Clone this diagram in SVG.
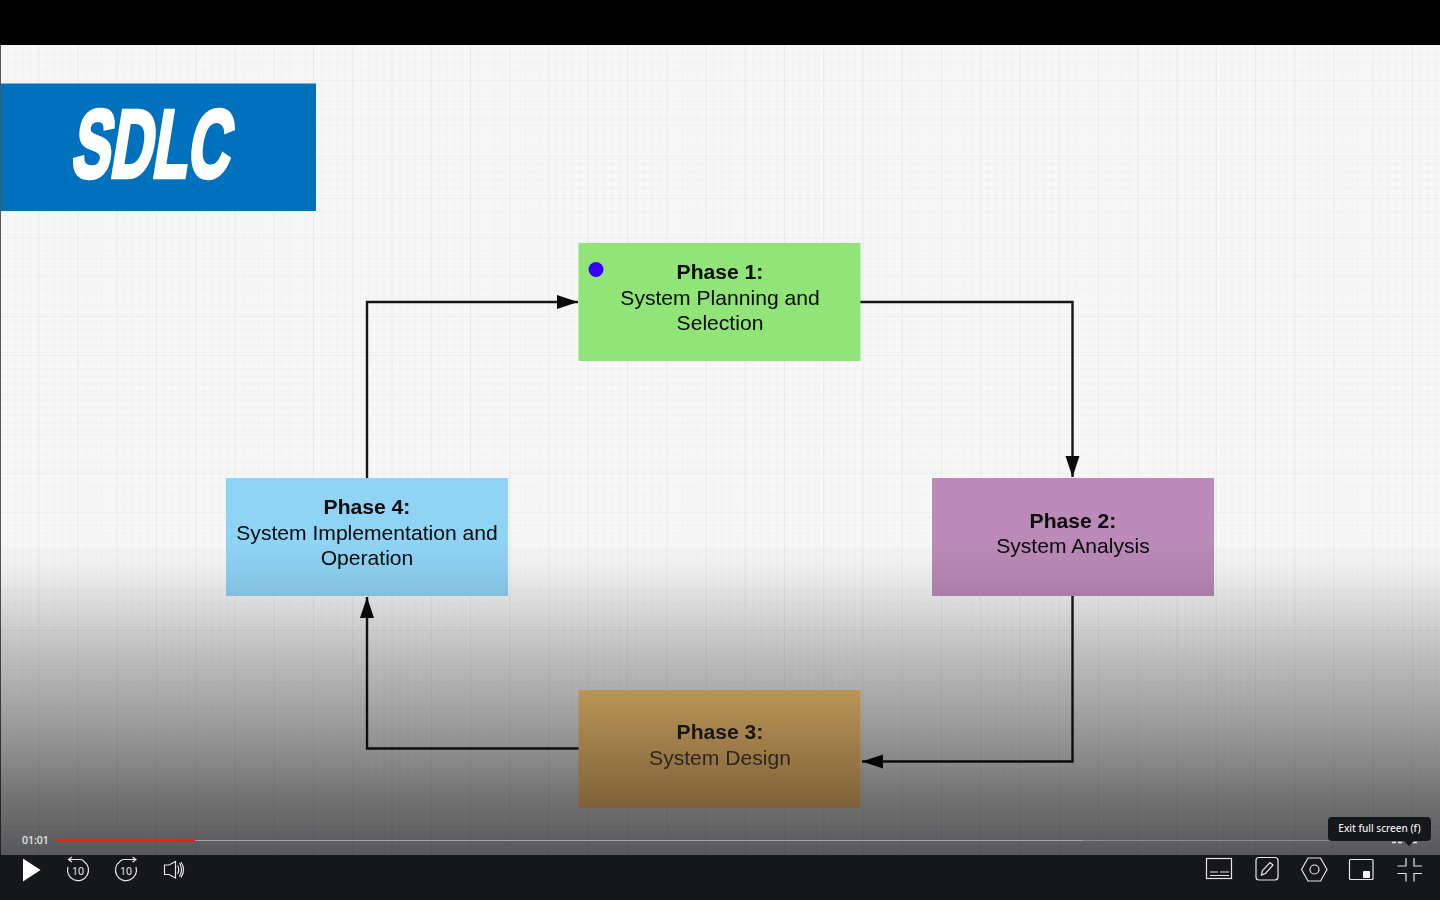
<svg xmlns="http://www.w3.org/2000/svg" width="1440" height="900" viewBox="0 0 1440 900">
<style>
.t{font-family:"Liberation Sans",Arial,sans-serif;font-size:21.1px;fill:#080808;text-anchor:middle;filter:url(#soft)}
.b{font-weight:700}
.c{fill:none;stroke:#161616;stroke-width:2.4;stroke-linejoin:miter}
.i{fill:none;stroke:#e6e6e6;stroke-width:1.2}
.u{font-family:"Noto Sans","Open Sans",sans-serif;fill:#ececec}
</style>
<defs>
<filter id="soft" x="-5%" y="-20%" width="110%" height="140%"><feGaussianBlur stdDeviation="0.3"/></filter>
<pattern id="minor" width="7.85" height="7.85" patternUnits="userSpaceOnUse"><path d="M7.85 0V7.85H0" fill="none" stroke="#eeeeee" stroke-width="1"/></pattern>
<pattern id="major" width="39.25" height="39.25" patternUnits="userSpaceOnUse" patternTransform="translate(0 42)"><path d="M39.25 0V39.25H0" fill="none" stroke="#e5e5e5" stroke-width="1.200"/></pattern>
<linearGradient id="shade" x1="0" y1="0" x2="0" y2="1"><stop offset="0" stop-color="#000" stop-opacity="0"/><stop offset=".1" stop-color="#000" stop-opacity=".04"/><stop offset=".32" stop-color="#000" stop-opacity=".2"/><stop offset=".635" stop-color="#000" stop-opacity=".4"/><stop offset=".825" stop-color="#000" stop-opacity=".54"/><stop offset="1" stop-color="#020308" stop-opacity=".65"/></linearGradient>
<linearGradient id="brown" x1="0" y1="0" x2="0" y2="1"><stop offset="0" stop-color="#ba9555"/><stop offset="1" stop-color="#7e6139"/></linearGradient>
<marker id="arrow" markerUnits="userSpaceOnUse" markerWidth="22" markerHeight="16" refX="21" refY="7" orient="auto"><path d="M0 0L21 7L0 14Z" fill="#0a0a0a"/></marker>
</defs>
<rect width="1440" height="900" fill="#000"/>
<g id="canvas"><rect y="45" width="1440" height="810" fill="#f7f7f7"/><rect y="45" width="1440" height="810" fill="url(#minor)"/><rect y="45" width="1440" height="810" fill="url(#major)"/><rect y="45" width="1" height="810" fill="#555"/></g>
<g id="title"><rect x="1" y="83.500" width="315" height="127.500" fill="#0071bc"/><text transform="translate(70 177) skewX(-9)" x="0" y="0" font-family="'Liberation Sans',Roboto,sans-serif" font-weight="700" font-size="96" fill="#fff" stroke="#fff" stroke-width="4.500" textLength="158" lengthAdjust="spacingAndGlyphs">SDLC</text></g>
<g id="connectors">
<path class="c" marker-end="url(#arrow)" d="M860 302H1072.500V477"/>
<path class="c" marker-end="url(#arrow)" d="M1072.500 596V761.500H862"/>
<path class="c" marker-end="url(#arrow)" d="M579 748.500H367V597"/>
<path class="c" marker-end="url(#arrow)" d="M367 478V302H578"/>
</g>
<g id="phase1"><rect x="578.500" y="243" width="282" height="118" fill="#90e478"/><text class="t b" x="720" y="279">Phase 1:</text><text class="t" x="720" y="304.500">System Planning and</text><text class="t" x="720" y="330">Selection</text></g>
<g id="phase2"><rect x="932" y="478" width="282" height="118" fill="#bb8ab8"/><text class="t b" x="1073" y="528">Phase 2:</text><text class="t" x="1073" y="553">System Analysis</text></g>
<g id="phase4"><rect x="226" y="478" width="282" height="118" fill="#8fd3f5"/><text class="t b" x="367" y="514">Phase 4:</text><text class="t" x="367" y="540">System Implementation and</text><text class="t" x="367" y="565">Operation</text></g>
<circle id="pointer" cx="596" cy="269.500" r="7.500" fill="#3a00f5"/>
<rect id="shade-overlay" y="540" width="1440" height="315" fill="url(#shade)"/>
<g id="phase3"><rect x="578.500" y="690" width="282" height="118" fill="url(#brown)"/><text class="t b" x="720" y="739" style="fill:#171512">Phase 3:</text><text class="t" x="720" y="765" style="fill:#2b2620">System Design</text></g>
<g id="player">
<rect y="855" width="1440" height="45" fill="#16171b"/>
<text class="u" x="22" y="844" font-size="10.500" font-weight="500">01:01</text>
<rect x="57" y="840" width="1026" height="1" fill="#a5a5a5"/><rect x="1083" y="840" width="335" height="1" fill="#8a8a8a"/>
<rect x="57" y="839.500" width="138" height="2" fill="#f0200f"/>
<path d="M23 858.500L40.500 870L23 881.500Z" fill="#fff"/>
<g id="back10"><path class="i" d="M68 867A10.500 10.500 0 1 0 84 861.500Q83 859.500 80 859.500H68.500M72 857L68.500 859.500L72 862"/><text class="u" x="78" y="874.500" font-size="10.500" text-anchor="middle">10</text></g>
<g id="fwd10"><path class="i" d="M136 867A10.500 10.500 0 1 1 120 861.500Q121 859.500 124 859.500H136M132.500 857L136 859.500L132.500 862"/><text class="u" x="126" y="874.500" font-size="10.500" text-anchor="middle">10</text></g>
<g id="volume"><path class="i" d="M164.500 865H169L175.500 861.500V878L169 874.500H164.500Z"/><path class="i" d="M177.500 865.500Q180 869.500 177.500 874M179.500 863Q183.500 869.500 179.500 876.500M181 862Q186 869.500 181 877.500"/></g>
<g id="captions"><rect class="i" x="1206.500" y="858.500" width="25" height="20"/><path class="i" d="M1210 872H1218M1220 872H1229M1210 875.500H1229"/></g>
<g id="notes"><rect class="i" x="1256" y="857.500" width="22" height="22.500" rx="3"/><path class="i" d="M1261.500 875L1262.500 870.500L1270 862.500L1273 865L1265.500 873.500Z"/></g>
<g id="settings"><path class="i" d="M1301.500 869.500L1308 858H1320.500L1327 869.500L1320.500 881H1308Z"/><circle class="i" cx="1314.500" cy="869.500" r="4.500"/></g>
<g id="pip"><rect class="i" x="1349.500" y="859.500" width="23.500" height="20" rx="1"/><rect x="1363" y="871" width="7" height="7" rx="1" fill="#f2f2f2"/></g>
<g id="fullscreen"><path class="i" d="M1397.500 866H1406V858M1414 858V866H1422M1397.500 873.500H1406V881.500M1414 881.500V873.500H1422"/></g>
<path id="hidden-time-slivers" d="M1392 842.500H1396M1398 842.500H1402M1412 842.500H1417" stroke="#e8e8e8" stroke-width="1.600" fill="none"/>
<g id="tooltip"><rect x="1328" y="817" width="103" height="24" rx="4" fill="#16171b"/><path d="M1404 841H1414L1409 846Z" fill="#16171b"/><text class="u" x="1379.500" y="832" font-size="10" font-weight="500" text-anchor="middle">Exit full screen (f)</text></g>
</g>
</svg>
